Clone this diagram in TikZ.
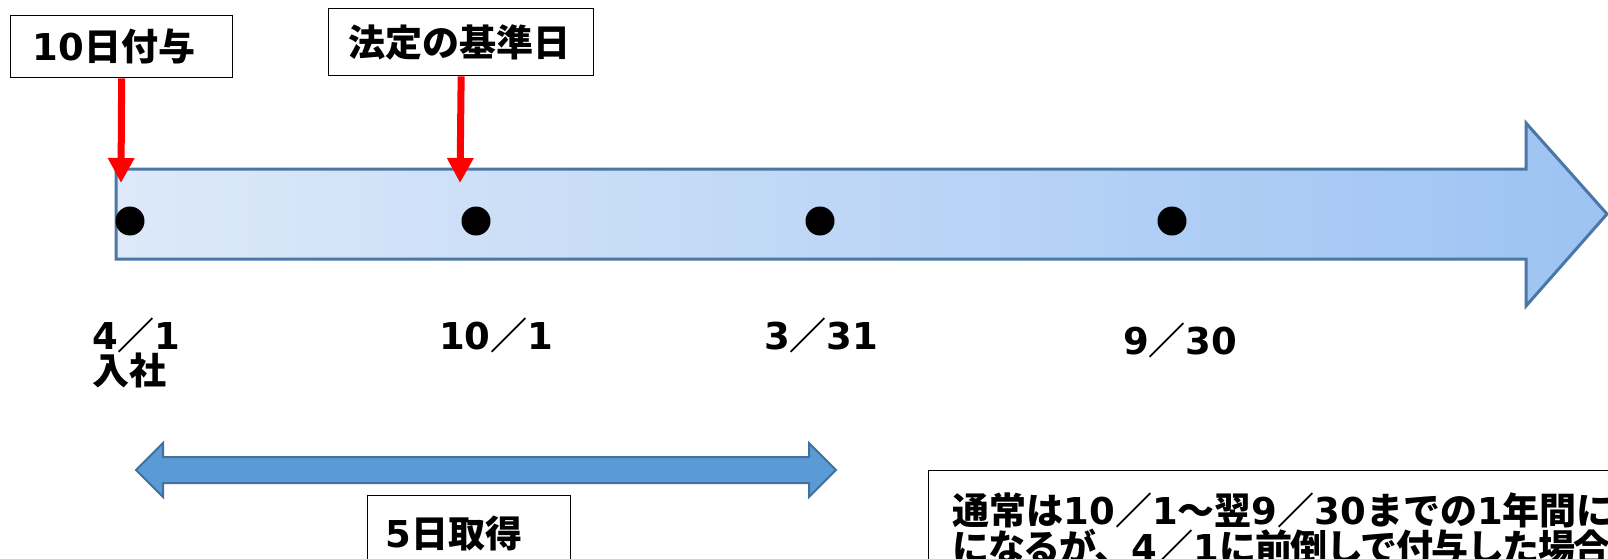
\documentclass[tikz,border=0pt]{standalone}
\usepackage{fontspec}
\setmainfont{Noto Sans CJK JP}
\newfontfamily\numfont{DejaVu Sans}
\newcommand\nm[1]{{\numfont #1}}
\newcommand\tight[1]{{\addfontfeature{LetterSpace=-4}#1}}
\usetikzlibrary{arrows.meta}
\definecolor{barL}{HTML}{DDE9F9}
\definecolor{barR}{HTML}{9DC3F3}
\definecolor{barE}{HTML}{4A77A3}
\definecolor{dblF}{HTML}{5B9BD5}
\definecolor{dblE}{HTML}{41719C}
\tikzset{
  box/.style={draw=black, line width=1.3pt, fill=white, align=left, inner sep=0pt},
  lbl/.style={inner sep=0pt, anchor=base west},
  dot/.style={circle, fill=black, minimum size=29pt, inner sep=0pt},
  redarr/.style={draw=red, line width=7pt, -{Triangle[width=25pt,length=25pt]}},
  bigarrow/.style={left color=barL, right color=barR, draw=barE, line width=3pt, line join=miter},
  dblarrow/.style={fill=dblF, draw=dblE, line width=2pt, line join=miter}
}
\begin{document}
\begin{tikzpicture}[x=1pt, y=-1pt, font=\fontsize{37}{37}\selectfont\bfseries]
\useasboundingbox (0,0) rectangle (1608,559);
\clip (0,0) rectangle (1608,559);
% big timeline arrow
\shadedraw[bigarrow] (116,169) -- (1526,169) -- (1526,123) -- (1607,214) -- (1526,306) -- (1526,259) -- (116,259) -- cycle;
% dots
\node[dot] (d1) at (130,221) {};
\node[dot] (d2) at (476,221) {};
\node[dot] (d3) at (820,221) {};
\node[dot] (d4) at (1172,221) {};
% top boxes
\node[box, anchor=north west, text width=178pt, inner xsep=22pt, minimum height=62pt] (b1) at (10,15) {\nm{10}日付与};
\node[box, anchor=north west, text width=225pt, inner xsep=20pt, minimum height=67pt] (b2) at (328,8) {法定の基準日};
\coordinate (t1) at (121,183);
\coordinate (t2) at (460,183);
\draw[redarr] (b1.south) -- (t1);
\draw[redarr] (b2.south) -- (t2);
% date labels
\node[lbl] (l1) at (92,349) {\nm{4}／\nm{1}};
\node[lbl] (l1b) at (92,384) {入社};
\node[lbl] (l2) at (439,349) {\nm{10}／\nm{1}};
\node[lbl] (l3) at (764,349) {\nm{3}／\nm{31}};
\node[lbl] (l4) at (1123,354) {\nm{9}／\nm{30}};
% double arrow
\draw[dblarrow] (136,470) -- (163,443) -- (163,457) -- (809,457) -- (809,443) -- (836,470) -- (809,497) -- (809,483) -- (163,483) -- (163,497) -- cycle;
% bottom boxes
\node[box, anchor=north west, text width=167pt, inner xsep=18pt, inner ysep=20pt, text depth=100pt] (b3) at (367,495) {\nm{5}日取得};
\node[box, anchor=north west, text width=1200pt, inner xsep=24pt, inner ysep=22pt, text depth=100pt] (b4) at (928,470) {通常は\nm{10}／\nm{1}～翌\nm{9}／\nm{30}までの\nm{1}年間に\nm{5}\\\tight{になるが、}\nm{4}／\nm{1}\tight{に前倒しで付与した場合に}};
\end{tikzpicture}
\end{document}
